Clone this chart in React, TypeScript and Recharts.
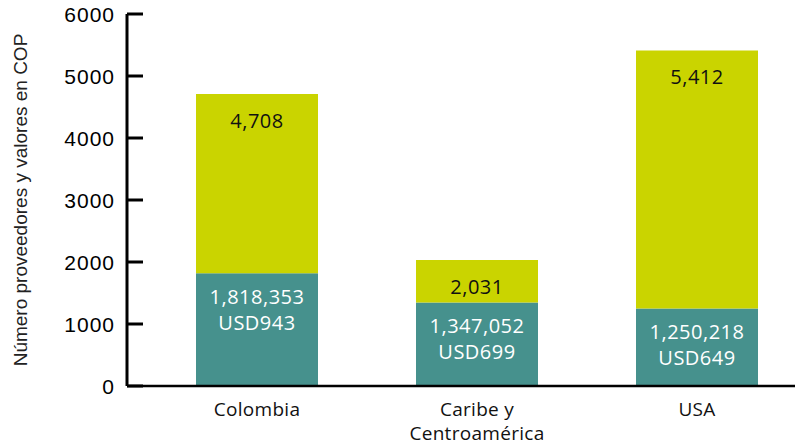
import { BarChart, Bar, XAxis, YAxis, LabelList } from "recharts";

const regions = ["Colombia", "Caribe y Centroamérica", "USA"];
const regionLines = [["Colombia"], ["Caribe y", "Centroamérica"], ["USA"]];
const proveedores = [4708, 2031, 5412];
const valoresCop = [1818353, 1347052, 1250218];
const valoresUsd = [943, 699, 649];
const yTicks = [0, 1000, 2000, 3000, 4000, 5000, 6000];

const data = regions.map((name, i) => ({
  name,
  cop: valoresCop[i] / 1000,
  rest: proveedores[i] - valoresCop[i] / 1000,
}));

const labelFont = "'Open Sans', 'Liberation Sans', sans-serif";
const axisFont = "'Liberation Sans', Arial, sans-serif";

const fmt = (n: number) => n.toLocaleString("en-US");

const YTick = (props: any) => {
  const { x, y, payload } = props;
  return (
    <g>
      <line x1={x} x2={x + 16} y1={y} y2={y} stroke="#000" strokeWidth={3} />
      <text
        x={x - 12}
        y={y}
        textAnchor="end"
        dominantBaseline="central"
        fontSize={21}
        letterSpacing={1}
        fontFamily={axisFont}
        fill="#000"
      >
        {payload.value}
      </text>
    </g>
  );
};

const XTick = (props: any) => {
  const { x, y, index } = props;
  const lines = regionLines[index] || [];
  return (
    <g>
      {lines.map((l, k) => (
        <text
          key={k}
          x={x}
          y={y + 15 + k * 24}
          textAnchor="middle"
          dominantBaseline="central"
          fontSize={19}
          letterSpacing={0.3}
          fontFamily={labelFont}
          fill="#111"
        >
          {l}
        </text>
      ))}
    </g>
  );
};

const BottomLabel = (props: any) => {
  const { x, y, width, index } = props;
  const cx = x + width / 2;
  return (
    <g fontFamily={labelFont} fontSize={20} letterSpacing={0.5} fill="#fff" textAnchor="middle">
      <text x={cx} y={y + 23} dominantBaseline="central">
        {fmt(valoresCop[index])}
      </text>
      <text x={cx} y={y + 49} dominantBaseline="central">
        {"USD" + valoresUsd[index]}
      </text>
    </g>
  );
};

const TopLabel = (props: any) => {
  const { x, y, width, index } = props;
  return (
    <text
      x={x + width / 2}
      y={y + 26}
      textAnchor="middle"
      dominantBaseline="central"
      fontFamily={labelFont}
      fontSize={20}
      letterSpacing={0.5}
      fill="#111"
    >
      {fmt(proveedores[index])}
    </text>
  );
};

const AxisTitle = (props: any) => {
  const { viewBox } = props;
  const cx = viewBox.x - 2;
  const cy = viewBox.y + viewBox.height / 2;
  return (
    <text
      x={cx}
      y={cy}
      transform={`rotate(-90, ${cx}, ${cy})`}
      textAnchor="middle"
      dominantBaseline="central"
      fontSize={19}
      fontFamily={axisFont}
      fill="#222"
    >
      Número proveedores y valores en COP
    </text>
  );
};

export default function App() {
  return (
    <div
      style={{
        position: "absolute",
        top: 0,
        left: 0,
        width: 795,
        height: 443,
        overflow: "hidden",
        background: "#fff",
      }}
    >
      <BarChart
        width={807}
        height={443}
        data={data}
        margin={{ top: 14, right: 0, left: 22, bottom: 0 }}
      >
        <XAxis
          dataKey="name"
          padding={{ left: 20, right: 0 }}
          axisLine={{ stroke: "#000", strokeWidth: 2.5 }}
          tickLine={false}
          tick={<XTick />}
          height={57}
          interval={0}
        />
        <YAxis
          width={105}
          domain={[0, 6000]}
          ticks={yTicks}
          axisLine={{ stroke: "#000", strokeWidth: 3 }}
          tickLine={false}
          tickSize={0}
          tickMargin={0}
          tick={<YTick />}
          label={<AxisTitle />}
        />
        <Bar dataKey="cop" stackId="a" fill="#46918D" barSize={122} isAnimationActive={false}>
          <LabelList dataKey="cop" content={<BottomLabel />} />
        </Bar>
        <Bar dataKey="rest" stackId="a" fill="#CAD400" barSize={122} isAnimationActive={false}>
          <LabelList dataKey="rest" content={<TopLabel />} />
        </Bar>
      </BarChart>
    </div>
  );
}
